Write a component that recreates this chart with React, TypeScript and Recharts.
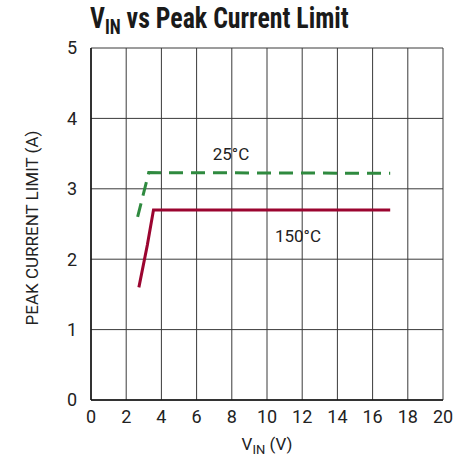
import React from "react";
import { LineChart, Line, XAxis, YAxis, CartesianGrid, Label } from "recharts";

const xTicks = [0, 2, 4, 6, 8, 10, 12, 14, 16, 18, 20];
const yTicks = [0, 1, 2, 3, 4, 5];
const series25 = [
  { v: 2.65, i: 2.6 },
  { v: 3.28, i: 3.23 },
  { v: 17.0, i: 3.22 },
];
const series150 = [
  { v: 2.72, i: 1.6 },
  { v: 3.2, i: 2.2 },
  { v: 3.55, i: 2.7 },
  { v: 17.0, i: 2.7 },
];

const TITLE_FONT = "'Liberation Sans Narrow', 'Roboto Condensed', Roboto, sans-serif";
const FONT = "Roboto, 'Liberation Sans', sans-serif";

export default function App() {
  return (
    <div style={{ position: "absolute", left: 0, top: 0, width: 466, height: 456, background: "#fff", fontFamily: FONT }}>
      <div style={{ position: "absolute", left: 90, top: 0, fontSize: 29, fontWeight: 700, color: "#1a1a1a", whiteSpace: "nowrap", lineHeight: "36px", fontFamily: TITLE_FONT, transform: "scaleX(0.89)", transformOrigin: "left top" }}>
        V<span style={{ fontSize: 20, verticalAlign: -6 }}>IN</span> vs Peak Current Limit
      </div>
      <LineChart width={466} height={456} margin={{ top: 48, right: 23, left: 0, bottom: 0 }}>
        <CartesianGrid stroke="#3a3a3a" strokeWidth={1} horizontalValues={yTicks} verticalValues={xTicks} />
        <XAxis
          type="number"
          dataKey="v"
          domain={[0, 20]}
          ticks={xTicks}
          height={56}
          tickLine={false}
          axisLine={{ stroke: "#111", strokeWidth: 1.5 }}
          tick={{ fill: "#222", fontSize: 18, fontFamily: FONT }}
          tickMargin={4}
        >
          <Label position="insideBottom" value="V" content={(p: any) => {
            const vb = p.viewBox;
            const cx = vb.x + vb.width / 2;
            return (
              <text x={cx} y={vb.y + 50} textAnchor="middle" fill="#222" fontSize={17} fontFamily={FONT}>
                V<tspan fontSize={13} dy={4}>IN</tspan><tspan dy={-4}> (V)</tspan>
              </text>
            );
          }} />
        </XAxis>
        <YAxis
          type="number"
          domain={[0, 5]}
          ticks={yTicks}
          width={91}
          tickLine={false}
          axisLine={{ stroke: "#111", strokeWidth: 1.5 }}
          tick={{ fill: "#222", fontSize: 18, fontFamily: FONT }}
          tickMargin={8}
        >
          <Label value="PEAK CURRENT LIMIT (A)" content={(p: any) => {
            const vb = p.viewBox;
            const cy = vb.y + vb.height / 2 + 4;
            return (
              <text x={38} y={cy} transform={`rotate(-90 38 ${cy})`} textAnchor="middle" fill="#222" fontSize={17} fontFamily={FONT}>
                PEAK CURRENT LIMIT (A)
              </text>
            );
          }} />
        </YAxis>
        <Line data={series25} dataKey="i" type="linear" stroke="#2f8a3f" strokeWidth={3} strokeDasharray="14 8" dot={false} isAnimationActive={false} />
        <Line data={series150} dataKey="i" type="linear" stroke="#9b0530" strokeWidth={3} dot={false} isAnimationActive={false} />
        <text x={231} y={160} textAnchor="middle" fill="#222" fontSize={17} fontFamily={FONT}>25°C</text>
        <text x={298} y={242} textAnchor="middle" fill="#222" fontSize={17} fontFamily={FONT}>150°C</text>
      </LineChart>
    </div>
  );
}
